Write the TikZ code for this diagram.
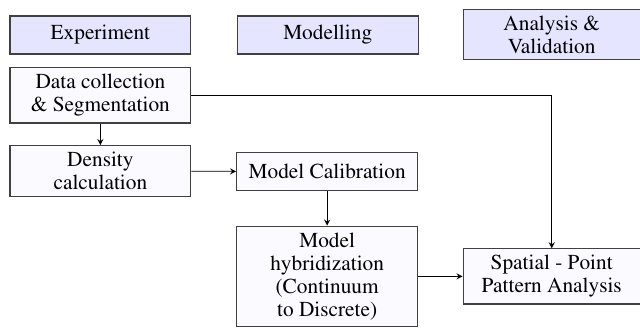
\documentclass[tikz,border=0pt]{standalone}
\usepackage[T1]{fontenc}
\usepackage{times}
\usetikzlibrary{shapes, arrows, positioning}

\begin{document}
\begin{tikzpicture}[
    % Stili per le intestazioni
    header/.style={rectangle, semithick, draw=black!75, fill=blue!10, align=center, minimum width=3.28cm, minimum height=0.69cm, font=\rmfamily\fontsize{11}{11.9}\selectfont},
    % Stili per i blocchi
    block/.style={rectangle, semithick, draw=black!75, fill=blue!2, align=center, minimum width=3.28cm, minimum height=0.69cm, font=\rmfamily\fontsize{11}{11.9}\selectfont},
    wideblock/.style={block, minimum width=3.21cm},
    % Stili per le connessioni
    flow/.style={->, >=stealth, black}
]
\useasboundingbox (0,0) rectangle (11.6,-6.0);

% === INTESTAZIONI ===
\node[header] (experiment) at (1.82,-0.635) {Experiment};
\node[header] (modelling) at (5.94,-0.635) {Modelling};
\node[header, minimum width=3.21cm] (analysis) at (10.0,-0.625) {Analysis \&\\Validation};

% === ESPERIMENTO ===
\node[block] (datacoll) at (1.82,-1.73) {Data collection\\\& Segmentation};
\node[block] (density) at (1.82,-3.10) {Density\\calculation};

% === MODELLAZIONE ===
\node[block] (calib) at (5.93,-3.11) {Model Calibration};
\node[block] (hybrid) at (5.93,-5.01) {Model\\hybridization\\(Continuum\\to Discrete)};

% === ANALISI ===
\node[wideblock] (spatial) at (10.0,-5.01) {Spatial - Point\\Pattern Analysis};

% === CONNESSIONI ===
\draw[flow] (datacoll) -- (density);
\draw[flow] (density) -- (calib);
\draw[flow] (calib) -- (hybrid);
\draw[flow] (hybrid) -- (spatial);
\draw[flow] (datacoll.east) -| (spatial.north);

\end{tikzpicture}
\end{document}
